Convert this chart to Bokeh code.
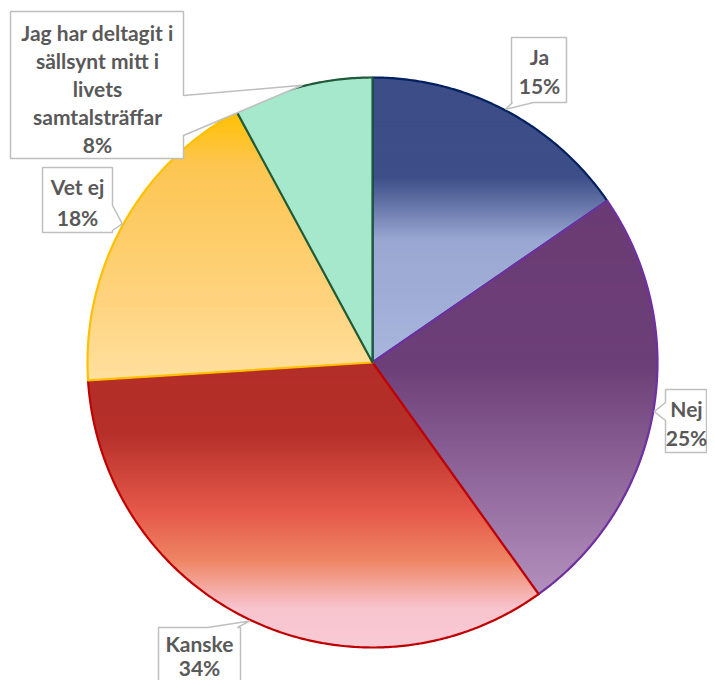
import math
from bokeh.plotting import figure
from bokeh.models import Range1d
from bokeh.core.properties import value
from bokeh.embed import file_html
from bokeh.resources import INLINE

# ---------------- data ----------------
categories = ["Ja", "Nej", "Kanske", "Vet ej",
              "Jag har deltagit i sällsynt mitt i livets samtalsträffar"]
shares = [15.4, 24.7, 33.9, 18.1, 7.9]          # percent
label_lines = [["Ja"], ["Nej"], ["Kanske"], ["Vet ej"],
               ["Jag har deltagit i", "sällsynt mitt i", "livets", "samtalsträffar"]]

# ---------------- styles ----------------
border_colors = ["#002060", "#7030A0", "#C00000", "#FFC000", "#1F5A3A"]
gradients = [
    [(0.0, "#3C4D87"), (0.35, "#3D4E88"), (0.57, "#99A7D2"), (1.0, "#A8B5DC")],
    [(0.0, "#6A3B74"), (0.42, "#6D3F78"), (1.0, "#B390BE")],
    [(0.0, "#B42E29"), (0.25, "#B6302A"), (0.53, "#E65A4B"), (0.69, "#EE8462"),
     (0.86, "#F8C4CE"), (1.0, "#F9CAD4")],
    [(0.0, "#FFC000"), (0.2, "#FDC652"), (0.7, "#FED37E"), (1.0, "#FFE09F")],
    [(0.0, "#A6E8CB"), (1.0, "#A6E8CB")],
]
TEXT_COLOR = "#595959"
BOX_LINE = "#BFBFBF"
FONT_SIZE = "21px"

# ---------------- layout ----------------
W, H = 707, 680
CX, CY, R = 372.0, 362.0, 285.0
callouts = [
    dict(box=(511, 37, 566, 102), side="bottom", base=(533, 512), tx=539, ty=56, dy=29),
    dict(box=(665, 389, 706, 452), side="left", base=(420, 402), tx=686, ty=408, dy=29),
    dict(box=(158, 627, 240, 700), side="top", base=(207, 237), tx=199, ty=643, dy=24),
    dict(box=(42, 167, 112, 232), side="right", base=(205, 230), tx=77, ty=186, dy=31),
    dict(box=(10, 11, 183, 158), side="right", base=(95, 135), tx=97, ty=32, dy=28),
]


def hex2rgb(h):
    h = h.lstrip("#")
    return tuple(int(h[i:i + 2], 16) for i in (0, 2, 4))


def grad_color(stops, t):
    t = min(max(t, 0.0), 1.0)
    for (t0, c0), (t1, c1) in zip(stops[:-1], stops[1:]):
        if t <= t1:
            f = 0 if t1 == t0 else (t - t0) / (t1 - t0)
            a, b = hex2rgb(c0), hex2rgb(c1)
            return "#%02x%02x%02x" % tuple(round(a[i] + f * (b[i] - a[i])) for i in range(3))
    return stops[-1][1]


def pt(theta, r=R):
    return (CX + r * math.sin(theta), CY - r * math.cos(theta))


def wedge(th0, th1):
    n = max(8, int(math.degrees(th1 - th0) * 2))
    pts = [(CX, CY)]
    for i in range(n + 1):
        pts.append(pt(th0 + (th1 - th0) * i / n))
    return pts


def clip_half(pts, keep, yb):
    out = []
    n = len(pts)
    for i in range(n):
        P, Q = pts[i], pts[(i + 1) % n]
        inP, inQ = keep(P[1]), keep(Q[1])
        if inP:
            out.append(P)
        if inP != inQ:
            t = (yb - P[1]) / (Q[1] - P[1])
            out.append((P[0] + t * (Q[0] - P[0]), yb))
    return out


def clip_strip(poly, y0, y1):
    pts = clip_half(poly, lambda y: y >= y0, y0)
    if len(pts) >= 3:
        pts = clip_half(pts, lambda y: y <= y1, y1)
    return pts


p = figure(width=W, height=H, x_range=Range1d(0, W), y_range=Range1d(H, 0),
           output_backend="svg", toolbar_location=None, min_border=0)
p.axis.visible = False
p.grid.visible = False
p.outline_line_color = None
p.background_fill_color = "white"
p.border_fill_color = "white"

total = sum(shares)
angles = []
acc = 0.0
for s in shares:
    th0 = acc / total * 2 * math.pi
    acc += s
    th1 = acc / total * 2 * math.pi
    angles.append((th0, th1))

STRIP_PX = 1.5
for i, (th0, th1) in enumerate(angles):
    poly = wedge(th0, th1)
    ys = [q[1] for q in poly]
    ymin, ymax = min(ys), max(ys)
    nstrip = max(1, int((ymax - ymin) / STRIP_PX))
    xs_l, ys_l, cols = [], [], []
    h = (ymax - ymin) / nstrip
    for k in range(nstrip):
        y0 = ymin + k * h
        # each strip reaches down to the slice bottom; later strips cover it
        part = clip_strip(poly, y0, ymax)
        if len(part) < 3:
            continue
        xs_l.append([q[0] for q in part])
        ys_l.append([q[1] for q in part])
        cols.append(grad_color(gradients[i], (k + 0.5) / nstrip))
    p.patches(xs_l, ys_l, fill_color=cols, line_color=None)
    p.patch([q[0] for q in poly], [q[1] for q in poly], fill_alpha=0,
            line_color=border_colors[i], line_width=2.2, line_join="round")

# callouts
for i, (th0, th1) in enumerate(angles):
    c = callouts[i]
    l, t, r, b = c["box"]
    tip = pt((th0 + th1) / 2, R + 1)
    a, bb = c["base"]
    if c["side"] == "bottom":
        pts = [(l, t), (r, t), (r, b), (a, b), tip, (bb, b), (l, b)]
    elif c["side"] == "left":
        pts = [(l, t), (r, t), (r, b), (l, b), (l, a), tip, (l, bb)]
    elif c["side"] == "top":
        pts = [(l, t), (a, t), tip, (bb, t), (r, t), (r, b), (l, b)]
    else:
        pts = [(l, t), (r, t), (r, a), tip, (r, bb), (r, b), (l, b)]
    p.patch([q[0] for q in pts], [q[1] for q in pts], fill_color="white",
            line_color=BOX_LINE, line_width=1.5)
    lines = label_lines[i] + ["%d%%" % round(shares[i])]
    p.text(x=[c["tx"]] * len(lines), y=[c["ty"] + j * c["dy"] for j in range(len(lines))],
           text=lines, text_font=value("Lato"), text_font_style="bold",
           text_font_size=FONT_SIZE, text_color=TEXT_COLOR,
           text_align="center", text_baseline="middle")

open("out.html", "w").write(file_html(p, INLINE))
